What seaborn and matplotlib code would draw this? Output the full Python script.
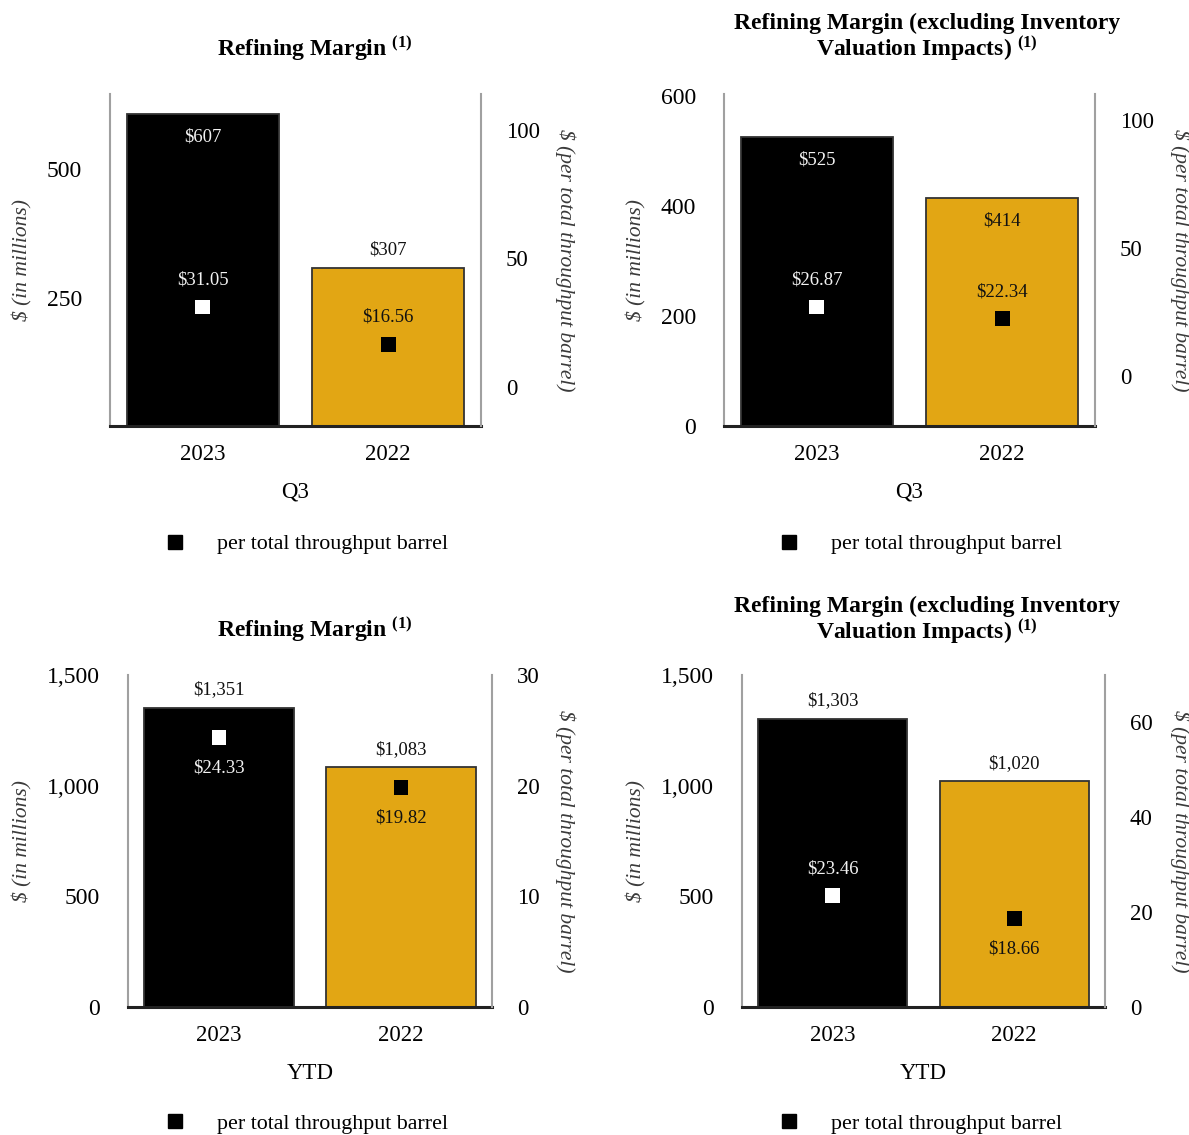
import numpy as np
import seaborn as sns
import matplotlib.pyplot as plt
from matplotlib.lines import Line2D
from matplotlib.ticker import FuncFormatter

# data
years = ['2023', '2022']
q3_margin = [607, 307]
q3_margin_bbl = [31.05, 16.56]
q3_margin_ex = [525, 414]
q3_margin_ex_bbl = [26.87, 22.34]
ytd_margin = [1351, 1083]
ytd_margin_bbl = [24.33, 19.82]
ytd_margin_ex = [1303, 1020]
ytd_margin_ex_bbl = [23.46, 18.66]

title_plain = 'Refining Margin $^{\\mathbf{(1)}}$'
title_ex = 'Refining Margin (excluding Inventory\nValuation Impacts) $^{\\mathbf{(1)}}$'

BLACK = '#000000'
GOLD = '#E2A614'
SPINE_GRAY = '#A0A0A0'
LABEL_GRAY = '#3a3a3a'

sns.set_theme(style='white')
plt.rcParams['font.family'] = ['Liberation Serif', 'DejaVu Serif']
plt.rcParams['text.color'] = 'black'
plt.rcParams['mathtext.fontset'] = 'custom'
plt.rcParams['mathtext.rm'] = 'Liberation Serif'
plt.rcParams['mathtext.bf'] = 'Liberation Serif:bold'
plt.rcParams['mathtext.it'] = 'Liberation Serif:italic'

W, H = 1189, 1135
fig = plt.figure(figsize=(W / 100, H / 100), dpi=100)


def px_box(l, t, r, b):
    return [l / W, 1 - b / H, (r - l) / W, (b - t) / H]


panels = [
    dict(vals=q3_margin, bbl=q3_margin_bbl, title=title_plain, xlab='Q3',
         box=(110, 94, 481, 426), ylim=(0, 646), yticks=[250, 500],
         y2lim=(-15.2, 114), y2ticks=[0, 50, 100],
         bar_mode=['in', 'above'], mk_mode=['above', 'above'],
         tpos=(315, 49), lab=(-0.237, 1.226), leg=(0.531, -0.356)),
    dict(vals=q3_margin_ex, bbl=q3_margin_ex_bbl, title=title_ex, xlab='Q3',
         box=(724, 94, 1095, 426), ylim=(0, 603), yticks=[0, 200, 400, 600],
         y2lim=(-19.5, 110), y2ticks=[0, 50, 100],
         bar_mode=['in', 'in'], mk_mode=['above', 'above'],
         tpos=(927, 38), lab=(-0.237, 1.229), leg=(0.531, -0.356)),
    dict(vals=ytd_margin, bbl=ytd_margin_bbl, title=title_plain, xlab='YTD',
         box=(128, 675, 492, 1007), ylim=(0, 1500), yticks=[0, 500, 1000, 1500],
         y2lim=(0, 30), y2ticks=[0, 10, 20, 30],
         bar_mode=['above', 'above'], mk_mode=['below', 'below'],
         tpos=(315, 630), lab=(-0.291, 1.20), leg=(0.492, -0.352)),
    dict(vals=ytd_margin_ex, bbl=ytd_margin_ex_bbl, title=title_ex, xlab='YTD',
         box=(742, 675, 1105, 1007), ylim=(0, 1500), yticks=[0, 500, 1000, 1500],
         y2lim=(0, 70), y2ticks=[0, 20, 40, 60],
         bar_mode=['above', 'above'], mk_mode=['above', 'below'],
         tpos=(927, 621), lab=(-0.292, 1.207), leg=(0.493, -0.352)),
]

thousands = FuncFormatter(lambda v, p: f'{v:,.0f}')

for p in panels:
    ax = fig.add_axes(px_box(*p['box']))
    sns.barplot(x=years, y=p['vals'], hue=years, palette=[BLACK, GOLD], saturation=1,
                width=0.82, edgecolor='#333333', linewidth=1.3, legend=False, ax=ax)
    ax.set_xlim(-0.5, 1.5)
    ax.set_ylim(*p['ylim'])
    ax.set_yticks(p['yticks'])
    ax.yaxis.set_major_formatter(thousands)
    ax.tick_params(axis='y', length=0, pad=20, labelsize=17, labelcolor='black')
    ax.tick_params(axis='x', length=0, pad=13, labelsize=16.5, labelcolor='black')
    ax.set_xlabel(p['xlab'], fontsize=16.5, color='black', labelpad=12)
    ax.set_ylabel('$ (in millions)', fontsize=15.5, style='italic', color=LABEL_GRAY)
    ax.yaxis.label.set(rotation_mode='default', ha='center', va='center')
    ax.yaxis.set_label_coords(p['lab'][0], 0.5)
    for s in ['top', 'right']:
        ax.spines[s].set_visible(False)
    ax.spines['left'].set_color(SPINE_GRAY)
    ax.spines['left'].set_linewidth(1.5)
    ax.spines['bottom'].set_color('#222222')
    ax.spines['bottom'].set_linewidth(2.2)
    ax.spines['bottom'].set_zorder(5)

    ax2 = ax.twinx()
    sns.scatterplot(x=np.arange(len(years)), y=p['bbl'], hue=years,
                    palette=['white', 'black'], marker='s', s=110, linewidth=0,
                    legend=False, ax=ax2, zorder=4)
    ax2.set_xlim(-0.5, 1.5)
    ax2.set_ylim(*p['y2lim'])
    ax2.set_yticks(p['y2ticks'])
    ax2.tick_params(axis='y', length=0, pad=18, labelsize=16.5, labelcolor='black')
    ax2.set_ylabel('$ (per total throughput barrel)', fontsize=15.5, style='italic',
                   color=LABEL_GRAY, rotation=270)
    ax2.yaxis.label.set(rotation_mode='default', ha='center', va='center')
    ax2.yaxis.set_label_coords(p['lab'][1], 0.5)
    for s in ['top', 'left', 'bottom']:
        ax2.spines[s].set_visible(False)
    ax2.spines['right'].set_color(SPINE_GRAY)
    ax2.spines['right'].set_linewidth(1.5)

    # value labels
    for i, v in enumerate(p['vals']):
        inside = p['bar_mode'][i] == 'in'
        col = '#F2F2F2' if (i == 0 and inside) else '#111111'
        off = -16.5 if inside else 13
        ax.annotate(f'${v:,}', (i, v), xytext=(0, off), textcoords='offset points',
                    ha='center', va='center', fontsize=13.5, color=col)
    for i, v in enumerate(p['bbl']):
        col = '#F2F2F2' if i == 0 else '#111111'
        off = 19.5 if p['mk_mode'][i] == 'above' else -22
        ax2.annotate(f'${v:.2f}', (i, v), xytext=(0, off), textcoords='offset points',
                     ha='center', va='center', fontsize=13.5, color=col)

    fig.text(p['tpos'][0] / W, 1 - p['tpos'][1] / H, p['title'], ha='center', va='center',
             fontsize=17, fontweight='bold', linespacing=1.0, color='black')

    handle = Line2D([], [], marker='s', color='black', linestyle='none', markersize=10)
    ax.legend([handle], ['per total throughput barrel'], loc='center',
              bbox_to_anchor=p['leg'], bbox_transform=ax.transAxes, frameon=False,
              fontsize=15.8, handlelength=0.8, handletextpad=1.5, labelcolor='black')

fig.savefig('out.png', dpi=100)
